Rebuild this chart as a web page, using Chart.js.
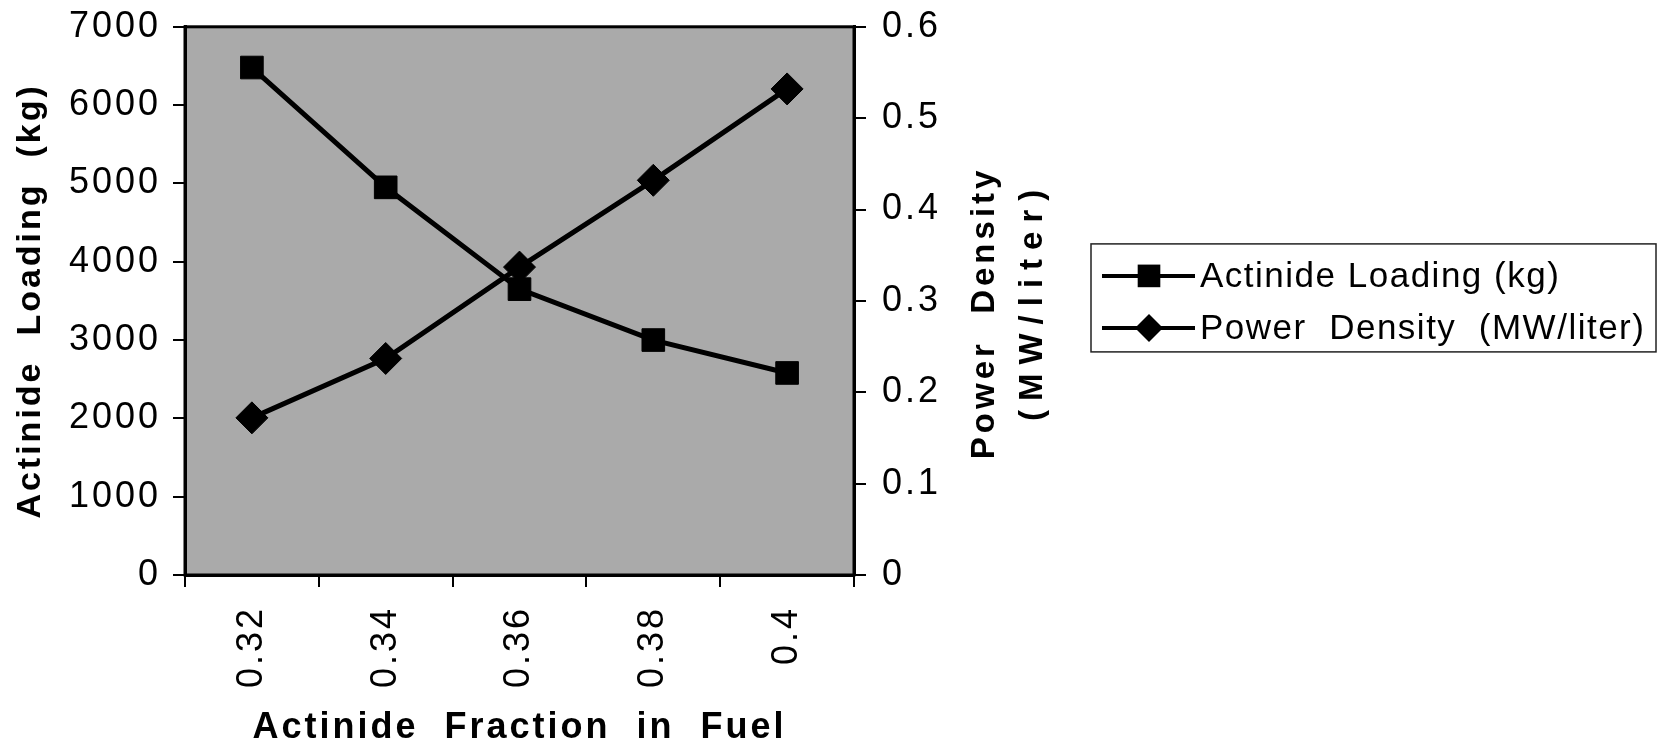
<!DOCTYPE html>
<html>
<head>
<meta charset="utf-8">
<title>Actinide Loading and Power Density</title>
<script src="https://cdn.jsdelivr.net/npm/chart.js"></script>
<style>
    html, body { margin: 0; padding: 0; background: #fff; }
    #wrap { width: 1661px; height: 746px; position: relative; }
</style>
</head>
<body>
<div id="wrap"><canvas id="fuelChart"></canvas></div>
<script>
// Actinide fraction in fuel vs. loading and power density
const categories = ['0.32', '0.34', '0.36', '0.38', '0.4'];
const actinideLoading = [6480, 4950, 3650, 3000, 2580];   // kg
const powerDensity = [0.172, 0.237, 0.337, 0.432, 0.532];  // MW/liter

const loadingMax = 7000;
const loadingStep = 1000;
const densityMax = 0.6;
const densityStep = 0.1;

const FONT = "'Liberation Sans', Arial, Helvetica, sans-serif";
const SPACING = '3px';

// grey plot area, frame and wider glyph spacing
const plotFrame = {
    id: 'plotFrame',
    beforeLayout(chart) {
        chart.ctx.letterSpacing = SPACING;
    },
    beforeDraw(chart) {
        const ctx = chart.ctx;
        const a = chart.chartArea;
        ctx.letterSpacing = SPACING;
        ctx.save();
        ctx.fillStyle = '#aaaaaa';
        ctx.fillRect(a.left, a.top, a.right - a.left, a.bottom - a.top);
        ctx.restore();
    },
    beforeDatasetsDraw(chart) {
        const ctx = chart.ctx;
        const a = chart.chartArea;
        ctx.save();
        ctx.strokeStyle = '#000';
        ctx.lineWidth = 3;
        ctx.strokeRect(a.left, a.top, a.right - a.left, a.bottom - a.top);
        ctx.restore();
    }
};

// right-hand axis title, reading bottom to top
const rightTitle = {
    id: 'rightTitle',
    afterDraw(chart) {
        const ctx = chart.ctx;
        const a = chart.chartArea;
        const x0 = chart.scales.y1.right;
        const cy = (a.top + a.bottom) / 2;
        ctx.save();
        ctx.fillStyle = '#000';
        ctx.font = 'bold 33px ' + FONT;
        ctx.textAlign = 'center';
        ctx.textBaseline = 'middle';
        ctx.letterSpacing = '4px';
        ctx.translate(x0 + 21, cy + 12);
        ctx.rotate(-Math.PI / 2);
        ctx.fillText('Power  Density', 0, 0);
        ctx.restore();

        ctx.save();
        ctx.fillStyle = '#000';
        ctx.font = 'bold 33px ' + FONT;
        ctx.textAlign = 'center';
        ctx.textBaseline = 'middle';
        ctx.letterSpacing = '9px';
        ctx.translate(x0 + 69, cy);
        ctx.rotate(-Math.PI / 2);
        ctx.fillText('(MW/liter)', 0, 0);
        ctx.restore();
    }
};

// boxed legend to the right of the axis title
const boxLegend = {
    id: 'boxLegend',
    afterDraw(chart) {
        const ctx = chart.ctx;
        const a = chart.chartArea;
        const left = chart.scales.y1.right + 127;
        const width = 565;
        const height = 108;
        const top = (a.top + a.bottom) / 2 - 57;
        const rowH = 52;

        ctx.save();
        ctx.strokeStyle = '#222';
        ctx.lineWidth = 1.5;
        ctx.strokeRect(left, top, width, height);

        ctx.font = '35px ' + FONT;
        ctx.textAlign = 'left';
        ctx.textBaseline = 'middle';
        ctx.fillStyle = '#000';
        ctx.letterSpacing = '1.5px';

        chart.data.datasets.forEach(function(ds, i) {
            const y = top + 32 + i * rowH;
            const mx = left + 58;
            ctx.strokeStyle = '#000';
            ctx.lineWidth = 4;
            ctx.beginPath();
            ctx.moveTo(left + 11, y);
            ctx.lineTo(left + 104, y);
            ctx.stroke();

            const r = ds.pointRadius;
            ctx.beginPath();
            if (ds.pointStyle === 'rect') {
                const s = r * Math.SQRT1_2;
                ctx.rect(mx - s, y - s, 2 * s, 2 * s);
            } else {
                const d = r - 2;
                ctx.moveTo(mx, y - d);
                ctx.lineTo(mx + d, y);
                ctx.lineTo(mx, y + d);
                ctx.lineTo(mx - d, y);
                ctx.closePath();
            }
            ctx.fill();

            ctx.fillText(ds.label, left + 109, y + 1);
        });
        ctx.restore();
    }
};

document.addEventListener('DOMContentLoaded', function() {
    const ctx = document.getElementById('fuelChart');

    new Chart(ctx, {
        type: 'line',
        data: {
            labels: categories,
            datasets: [{
                label: 'Actinide Loading (kg)',
                data: actinideLoading,
                yAxisID: 'y',
                borderColor: '#000',
                backgroundColor: '#000',
                borderWidth: 5,
                tension: 0,
                pointStyle: 'rect',
                pointRadius: 16,
                pointBorderWidth: 1,
                pointBackgroundColor: '#000',
                pointBorderColor: '#000'
            }, {
                label: 'Power  Density  (MW/liter)',
                data: powerDensity,
                yAxisID: 'y1',
                borderColor: '#000',
                backgroundColor: '#000',
                borderWidth: 5,
                tension: 0,
                pointStyle: 'rectRot',
                pointRadius: 16,
                pointBorderWidth: 1,
                pointBackgroundColor: '#000',
                pointBorderColor: '#000'
            }]
        },
        options: {
            responsive: true,
            maintainAspectRatio: false,
            animation: false,
            layout: {
                padding: { left: 0, right: 697, top: 19, bottom: 0 }
            },
            plugins: {
                legend: { display: false },
                tooltip: { enabled: false }
            },
            scales: {
                x: {
                    offset: true,
                    grid: {
                        offset: true,
                        drawOnChartArea: false,
                        tickLength: 12,
                        color: '#000',
                        lineWidth: 2
                    },
                    border: { color: '#000', width: 3 },
                    ticks: {
                        color: '#000',
                        font: { family: FONT, size: 36 },
                        minRotation: 90,
                        maxRotation: 90,
                        autoSkip: false,
                        padding: 19
                    },
                    title: {
                        display: true,
                        text: 'Actinide  Fraction  in  Fuel',
                        color: '#000',
                        font: { family: FONT, size: 36, weight: 'bold', lineHeight: 1 },
                        padding: { top: 0, bottom: 0 }
                    },
                    afterFit(scale) { scale.height = 171; }
                },
                y: {
                    position: 'left',
                    min: 0,
                    max: loadingMax,
                    grid: {
                        drawOnChartArea: false,
                        tickLength: 12,
                        color: '#000',
                        lineWidth: 2
                    },
                    border: { color: '#000', width: 3 },
                    ticks: {
                        stepSize: loadingStep,
                        color: '#000',
                        font: { family: FONT, size: 36, lineHeight: 0.6 },
                        padding: 12,
                        callback: function(value) { return String(value); }
                    },
                    title: {
                        display: true,
                        text: 'Actinide  Loading  (kg)',
                        color: '#000',
                        font: { family: FONT, size: 34, weight: 'bold', lineHeight: 1.2 },
                        padding: { top: 10, bottom: 0 }
                    },
                    afterFit(scale) { scale.width = 185; }
                },
                y1: {
                    position: 'right',
                    min: 0,
                    max: densityMax,
                    grid: {
                        drawOnChartArea: false,
                        tickLength: 12,
                        color: '#000',
                        lineWidth: 2
                    },
                    border: { color: '#000', width: 3 },
                    ticks: {
                        stepSize: densityStep,
                        color: '#000',
                        font: { family: FONT, size: 36, lineHeight: 0.6 },
                        padding: 16,
                        callback: function(value) { return String(Number(value.toFixed(1))); }
                    },
                    afterFit(scale) { scale.width = 110; }
                }
            }
        },
        plugins: [plotFrame, rightTitle, boxLegend]
    });
});
</script>
</body>
</html>
